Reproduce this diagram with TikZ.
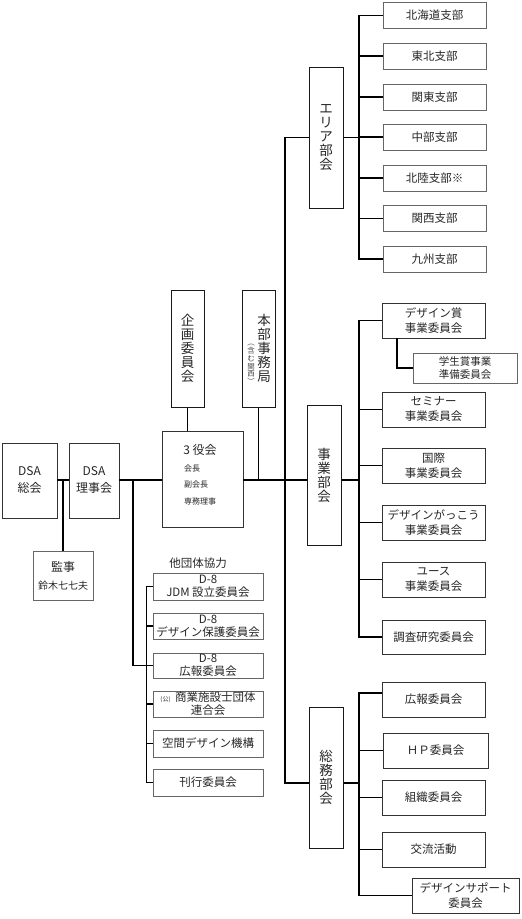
\documentclass[tikz,border=0pt]{standalone}
\usepackage{fontspec}
\setmainfont{Noto Sans CJK JP}
\begin{document}
\begin{tikzpicture}[x=1pt,y=-1pt,
  box/.style={draw=black!80, line width=0.9pt, inner sep=0pt, align=center, text=black!85, font=\fontsize{11.5}{15}\selectfont},
  lbox/.style={box, draw=black!60},
  obox/.style={lbox, font=\fontsize{11.5}{13}\selectfont},
  vbox/.style={box, draw=black!90, line width=1pt, font=\fontsize{13.5}{14}\selectfont},
  conn/.style={line width=1.6pt, black},
  txt/.style={inner sep=0pt, text=black!85}]
\useasboundingbox (0,0) rectangle (522,919);
\coordinate (ax) at (0,480);
\coordinate (mx) at (285,0);
\coordinate (bx) at (359,0);
\coordinate (tx) at (133,0);
\coordinate (gx) at (397,0);
\coordinate (sy) at (0,783);
\coordinate (ky) at (0,693);

% left part
\node[box, font=\fontsize{12}{17}\selectfont, minimum width=55pt, minimum height=75pt] (soukai) at (29.5,480.5) {DSA\\総会};
\node[box, font=\fontsize{12}{17}\selectfont, minimum width=50pt, minimum height=75pt] (rijikai) at (94,480.5) {DSA\\理事会};
\node[lbox, font=\fontsize{12}{18}\selectfont, minimum width=60pt, minimum height=49pt] (kanji) at (63,575.5) {監事\\{\fontsize{10}{10}\selectfont 鈴木七七夫}};
\node[box, minimum width=81pt, minimum height=96pt] (sanyaku) at (202.5,479) {};
\node[txt, font=\fontsize{12}{12}\selectfont] (sanyakut) at (200,450) {3 役会};
\node[txt, font=\fontsize{8}{8}\selectfont, anchor=west] (kaicho) at (184,468) {会長};
\node[txt, font=\fontsize{8}{8}\selectfont, anchor=west] (fuku) at (184,484) {副会長};
\node[txt, font=\fontsize{8}{8}\selectfont, anchor=west] (senmu) at (184,501) {専務理事};
\node[vbox, minimum width=33pt, minimum height=117pt] (kikaku) at (187.5,348.5) {企\\画\\委\\員\\会};
\node[vbox, minimum width=33pt, minimum height=117pt] (honbu) at (258.5,348.5) {};
\node[txt, align=center, font=\fontsize{13.5}{14}\selectfont] (honbut) at (264,348) {本\\部\\事\\務\\局};
\node[txt, align=center, font=\fontsize{7.5}{7.8}\selectfont, text=black!70] (honbus) at (251,364.5) {︵\\含\\む\\関\\西\\︶};

% other organisations
\node[txt, font=\fontsize{11.5}{12}\selectfont] (tadantai) at (198,563) {他団体協力};
\node[obox, minimum width=110pt, minimum height=27pt] (jdm) at (208,586.5) {D-8\\JDM 設立委員会};
\node[obox, minimum width=110pt, minimum height=26pt] (hogo) at (208,626) {D-8\\デザイン保護委員会};
\node[obox, minimum width=110pt, minimum height=25pt] (kohod) at (208,665.5) {D-8\\広報委員会};
\node[obox, minimum width=110pt, minimum height=26pt] (shogyo) at (208,704) {{\fontsize{6}{6}\selectfont (公)}\, 商業施設士団体\\連合会};
\node[obox, minimum width=110pt, minimum height=27pt] (kukan) at (208,743.5) {空間デザイン機構};
\node[obox, minimum width=110pt, minimum height=27pt] (kanko) at (208,782.5) {刊行委員会};

% area
\node[vbox, minimum width=34pt, minimum height=141pt] (area) at (326,137.5) {エ\\リ\\ア\\部\\会};
\node[lbox, minimum width=103pt, minimum height=26pt] (hokkaido) at (434.5,15.5) {北海道支部};
\node[lbox, minimum width=103pt, minimum height=26pt] (tohoku) at (434.5,56) {東北支部};
\node[lbox, minimum width=103pt, minimum height=26pt] (kanto) at (434.5,97) {関東支部};
\node[lbox, minimum width=103pt, minimum height=26pt] (chubu) at (434.5,137) {中部支部};
\node[lbox, minimum width=103pt, minimum height=26pt] (hokuriku) at (434.5,178) {北陸支部※};
\node[lbox, minimum width=103pt, minimum height=26pt] (kansai) at (434.5,218.5) {関西支部};
\node[lbox, minimum width=103pt, minimum height=26pt] (kyushu) at (434.5,259) {九州支部};

% jigyou
\node[vbox, minimum width=34pt, minimum height=140pt] (jigyou) at (324,475) {事\\業\\部\\会};
\node[box, minimum width=103pt, minimum height=35pt] (dshou) at (433.5,320.5) {デザイン賞\\事業委員会};
\node[lbox, font=\fontsize{10.5}{12.5}\selectfont, minimum width=104pt, minimum height=30pt] (gakusei) at (465,368) {学生賞事業\\準備委員会};
\node[box, minimum width=103pt, minimum height=35pt] (seminar) at (433.5,409.5) {セミナー\\事業委員会};
\node[box, minimum width=103pt, minimum height=35pt] (kokusai) at (433.5,465.5) {国際\\事業委員会};
\node[box, minimum width=103pt, minimum height=35pt] (gakko) at (433.5,522.5) {デザインがっこう\\事業委員会};
\node[box, minimum width=103pt, minimum height=35pt] (youth) at (433.5,579.5) {ユース\\事業委員会};
\node[box, minimum width=103pt, minimum height=34pt] (chosa) at (433.5,637) {調査研究委員会};

% soumu
\node[vbox, minimum width=34pt, minimum height=141pt] (soumu) at (326,777.5) {総\\務\\部\\会};
\node[box, minimum width=103pt, minimum height=35pt] (koho) at (433.5,699.5) {広報委員会};
\node[box, minimum width=105pt, minimum height=35pt] (hp) at (435.5,750.5) {ＨＰ委員会};
\node[box, minimum width=103pt, minimum height=35pt] (soshiki) at (433.5,797.5) {組織委員会};
\node[box, minimum width=103pt, minimum height=35pt] (koryu) at (433.5,849.5) {交流活動};
\node[box, minimum width=107pt, minimum height=35pt] (support) at (465.5,895.5) {デザインサポート\\委員会};

% connectors: left
\draw[conn] (soukai.east |- ax) -- (rijikai.west |- ax);
\draw[conn] (kanji.north) -- (kanji.north |- ax);
\draw[conn] (rijikai.east |- ax) -- (sanyaku.west |- ax);
\draw[conn] (sanyaku.east |- ax) -- (jigyou.west |- ax);
\draw[conn] (kikaku.south) -- (kikaku.south |- sanyaku.north);
\draw[conn] (honbu.south) -- (honbu.south |- ax);
\draw[conn] (tx |- ax) |- (kohod.west);
\draw[conn] (jdm.west) -- ++(-6,0) |- (kanko.west);
\draw[conn] (hogo.west) -- ++(-6,0);
\draw[conn] (shogyo.west) -- ++(-6,0);
\draw[conn] (kukan.west) -- ++(-6,0);

% main vertical
\draw[conn] (area.west) -| (mx |- sy) -- (soumu.west |- sy);

% area bracket
\draw[conn] (area.east) -- (bx |- area.east);
\draw[conn] (hokkaido.west) -- (bx |- hokkaido.west) |- (kyushu.west);
\draw[conn] (tohoku.west) -- (bx |- tohoku.west);
\draw[conn] (kanto.west) -- (bx |- kanto.west);
\draw[conn] (chubu.west) -- (bx |- chubu.west);
\draw[conn] (hokuriku.west) -- (bx |- hokuriku.west);
\draw[conn] (kansai.west) -- (bx |- kansai.west);

% jigyou bracket
\draw[conn] (jigyou.east |- ax) -- (bx |- ax);
\draw[conn] (dshou.west) -- (bx |- dshou.west) |- (chosa.west);
\draw[conn] (seminar.west) -- (bx |- seminar.west);
\draw[conn] (kokusai.west) -- (bx |- kokusai.west);
\draw[conn] (gakko.west) -- (bx |- gakko.west);
\draw[conn] (youth.west) -- (bx |- youth.west);
\draw[conn, line width=1.3pt] (dshou.south -| gx) |- (gakusei.west);

% soumu bracket
\draw[conn] (soumu.east |- sy) -- (bx |- sy);
\draw[conn] (koho.west |- ky) -- (bx |- ky) |- (support.west);
\draw[conn] (hp.west) -- (bx |- hp.west);
\draw[conn] (soshiki.west) -- (bx |- soshiki.west);
\draw[conn] (koryu.west) -- (bx |- koryu.west);
\end{tikzpicture}
\end{document}
